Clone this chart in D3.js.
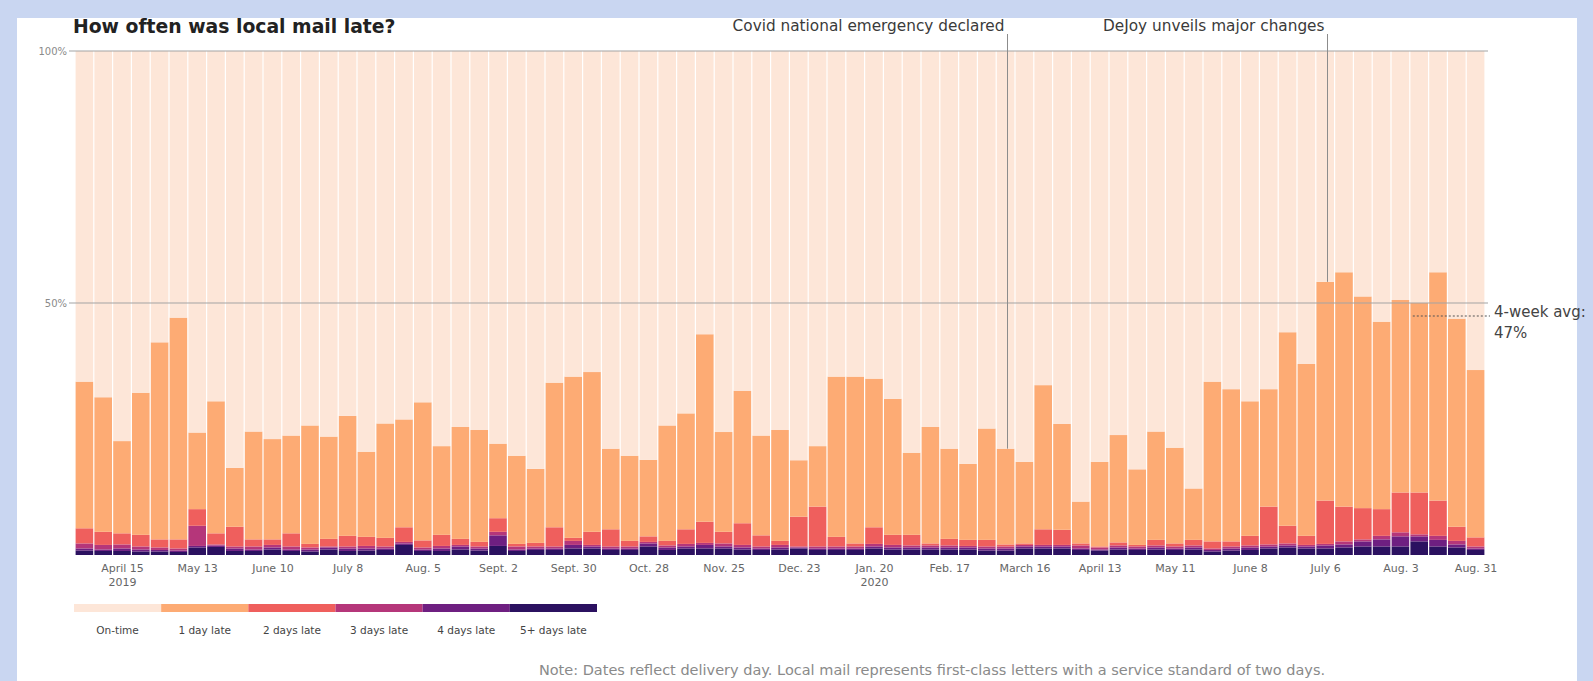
<!DOCTYPE html>
<html>
<head>
<meta charset="utf-8">
<script src="https://cdn.jsdelivr.net/npm/d3@7"></script>
<style>
  body { margin: 0; background: #c9d6f1; }
  text { font-family: "DejaVu Sans", sans-serif; }
</style>
</head>
<body>
<svg id="chart" width="1593" height="681"></svg>
<script>
//------------------------------------------- Data -------------------------------------------//
// weekly share of local mail (%), one value per week starting Monday April 1, 2019
let late1 = [29.1, 26.7, 18.3, 28.2, 39.1, 44.0, 15.2, 26.2, 11.7, 21.4,
  19.9, 19.4, 23.5, 20.3, 23.8, 16.9, 22.7, 21.4, 27.4, 17.6,
  22.2, 22.2, 14.8, 17.5, 14.7, 28.7, 32.0, 31.7, 16.0, 16.9,
  15.2, 22.9, 23.0, 37.2, 19.8, 26.3, 19.8, 22.0, 11.2, 12.0,
  31.8, 33.1, 29.5, 27.0, 16.3, 23.1, 17.9, 15.1, 22.1, 19.0,
  16.2, 28.6, 21.0, 8.3, 16.8, 21.3, 15.0, 21.5, 19.0, 10.2,
  31.7, 30.2, 26.7, 23.3, 38.4, 34.1, 43.4, 46.5, 42.0, 37.2,
  38.2, 37.6, 45.3, 41.3, 33.2]
let late2 = [3.0, 2.6, 2.2, 2.3, 1.6, 1.8, 3.3, 2.2, 3.9, 1.4,
  1.1, 2.6, 0.7, 1.5, 2.1, 1.8, 1.7, 2.9, 1.4, 2.2,
  1.2, 0.9, 2.7, 0.5, 0.7, 3.8, 0.6, 2.6, 3.4, 1.1,
  1.1, 0.9, 2.9, 4.2, 2.3, 4.3, 2.2, 0.8, 5.9, 7.9,
  1.9, 0.6, 3.3, 2.0, 2.1, 0.4, 1.3, 1.2, 1.3, 0.4,
  0.3, 3.1, 3.0, 0.4, 0.2, 0.6, 0.3, 1.1, 0.6, 1.1,
  1.4, 1.0, 1.9, 7.5, 3.5, 1.8, 8.6, 6.9, 6.2, 5.3,
  7.9, 8.3, 7.0, 2.8, 1.8]
let late3 = [1.0, 0.9, 0.8, 0.6, 0.5, 0.4, 4.0, 0.2, 0.4, 0.6,
  0.5, 0.6, 0.4, 0.2, 0.4, 0.5, 0.4, 0.3, 0.4, 0.5,
  0.3, 0.4, 0.7, 0.6, 0.4, 0.4, 0.8, 0.3, 0.4, 0.4,
  0.3, 0.4, 0.5, 0.4, 0.6, 0.5, 0.4, 0.5, 0.2, 0.4,
  0.4, 0.4, 0.5, 0.5, 0.4, 0.4, 0.4, 0.3, 0.4, 0.4,
  0.3, 0.3, 0.3, 0.6, 0.4, 0.4, 0.4, 0.4, 0.4, 0.4,
  0.3, 0.4, 0.4, 0.4, 0.4, 0.3, 0.3, 0.6, 0.4, 0.7,
  0.8, 0.4, 0.8, 0.7, 0.4]
let late4 = [0.4, 0.3, 0.5, 0.4, 0.3, 0.3, 0.3, 0.3, 0.5, 0.3,
  0.4, 0.3, 0.4, 0.4, 0.5, 0.4, 0.3, 0.3, 0.3, 0.5,
  0.6, 0.4, 2.1, 0.3, 0.3, 0.3, 0.7, 0.4, 0.3, 0.3,
  0.6, 0.5, 0.4, 0.7, 0.4, 0.4, 0.3, 0.4, 0.2, 0.3,
  0.3, 0.3, 0.4, 0.4, 0.4, 0.4, 0.4, 0.4, 0.4, 0.4,
  0.4, 0.4, 0.4, 0.3, 0.2, 0.4, 0.3, 0.4, 0.3, 0.4,
  0.3, 0.4, 0.5, 0.4, 0.4, 0.4, 0.6, 0.6, 1.0, 1.4,
  2.0, 1.0, 1.3, 0.6, 0.3]
let late5 = [0.9, 0.8, 0.8, 0.7, 0.7, 0.6, 1.5, 1.6, 0.8, 0.8,
  1.1, 0.8, 0.7, 1.1, 0.8, 0.9, 1.0, 2.0, 0.8, 0.8,
  1.1, 0.9, 1.8, 0.8, 1.0, 1.0, 1.3, 1.3, 1.0, 1.0,
  1.7, 1.0, 1.3, 1.3, 1.3, 1.1, 1.0, 1.1, 1.3, 1.0,
  1.0, 1.0, 1.3, 1.1, 1.1, 1.1, 1.1, 1.1, 0.9, 0.9,
  1.3, 1.3, 1.3, 1.0, 0.9, 1.1, 1.0, 1.1, 1.0, 1.1,
  0.7, 0.9, 1.0, 1.3, 1.5, 1.3, 1.3, 1.5, 1.7, 1.7,
  1.7, 2.7, 1.7, 1.5, 1.0]

let categories = ['On-time', '1 day late', '2 days late', '3 days late', '4 days late', '5+ days late']
let colors = ['#fde6d8', '#fdab74', '#ef5f5d', '#b5367a', '#6e1f81', '#2b1160']

let tickDates = ['2019-04-15', '2019-05-13', '2019-06-10', '2019-07-08', '2019-08-05', '2019-09-02',
  '2019-09-30', '2019-10-28', '2019-11-25', '2019-12-23', '2020-01-20', '2020-02-17', '2020-03-16',
  '2020-04-13', '2020-05-11', '2020-06-08', '2020-07-06', '2020-08-03', '2020-08-31']
let tickLabels = ['April 15', 'May 13', 'June 10', 'July 8', 'Aug. 5', 'Sept. 2', 'Sept. 30', 'Oct. 28',
  'Nov. 25', 'Dec. 23', 'Jan. 20', 'Feb. 17', 'March 16', 'April 13', 'May 11', 'June 8', 'July 6',
  'Aug. 3', 'Aug. 31']
let tickYears = ['2019', '', '', '', '', '', '', '', '', '', '2020', '', '', '', '', '', '', '', '']

let events = [
  {date: '2020-03-13', label: 'Covid national emergency declared'},
  {date: '2020-07-10', label: 'DeJoy unveils major changes'}
]

//--------------------------------------- Set up Canvas ---------------------------------------//
let w = 1593, h = 681
let plot = {left: 75, right: 1485, top: 51, bottom: 555}
let parse = d3.utcParse('%Y-%m-%d')

let svg = d3.select('#chart')
svg.append('rect').attr('x', 17).attr('y', 18).attr('width', 1560).attr('height', h - 18).attr('fill', '#fff')

let weeks = d3.utcMonday.range(parse('2019-04-01'), parse('2020-09-01'))
let rows = weeks.map(function (d, i) {
  let late = late1[i] + late2[i] + late3[i] + late4[i] + late5[i]
  return {date: d, late5: late5[i], late4: late4[i], late3: late3[i], late2: late2[i], late1: late1[i],
    onTime: 100 - late, late: late}
})

let x = d3.scaleUtc()
  .domain([weeks[0], d3.utcDay.offset(weeks[weeks.length - 1], 7)])
  .range([plot.left, plot.right])
let y = d3.scaleLinear().domain([0, 100]).range([plot.bottom, plot.top])

let keys = ['late5', 'late4', 'late3', 'late2', 'late1', 'onTime']
let keyColors = colors.slice().reverse()
let series = d3.stack().keys(keys)(rows)

//------------------------------------------ Bars ------------------------------------------//
svg.append('g')
  .selectAll('g')
  .data(series)
  .enter()
  .append('g')
  .attr('fill', (s, i) => keyColors[i])
  .selectAll('rect')
  .data(s => s)
  .enter()
  .append('rect')
  .attr('x', d => x(d.data.date) + 0.6)
  .attr('width', d => x(d3.utcDay.offset(d.data.date, 7)) - x(d.data.date) - 1.2)
  .attr('y', d => y(d[1]))
  .attr('height', d => y(d[0]) - y(d[1]))

// gridlines
let grid = svg.append('g')
;[50, 100].forEach(function (v) {
  grid.append('line')
    .attr('x1', 69).attr('x2', plot.right + 3)
    .attr('y1', y(v)).attr('y2', y(v))
    .attr('stroke', '#a3a3a3').attr('stroke-width', 1)
  grid.append('text')
    .text(v + '%')
    .attr('x', 67).attr('y', y(v)).attr('dy', '0.35em')
    .attr('text-anchor', 'end')
    .attr('font-size', '10px').attr('fill', '#8a8a8a')
})

//------------------------------------------ Axis ------------------------------------------//
let half = (x(weeks[1]) - x(weeks[0])) / 2
let xAxis = d3.axisBottom(x)
  .tickValues(tickDates.map(parse))
  .tickSize(0)
  .tickPadding(9)
  .tickFormat((d, i) => tickLabels[i])
let axisG = svg.append('g')
  .attr('transform', 'translate(' + half + ',' + plot.bottom + ')')
  .call(xAxis)
axisG.select('.domain').remove()
axisG.selectAll('text')
  .attr('font-family', '"DejaVu Sans", sans-serif')
  .attr('font-size', '11px')
  .attr('fill', '#666')
axisG.selectAll('.tick text')
  .each(function (d, i) {
    if (tickYears[i]) {
      d3.select(this).append('tspan').attr('x', 0).attr('dy', '1.3em').text(tickYears[i])
    }
  })

//--------------------------------------- Annotations ---------------------------------------//
events.forEach(function (e) {
  let date = parse(e.date)
  let row = rows.find(r => date >= r.date && date < d3.utcDay.offset(r.date, 7))
  let ex = Math.round(x(date)) + 0.5
  svg.append('line')
    .attr('x1', ex).attr('x2', ex)
    .attr('y1', 34).attr('y2', y(row.late))
    .attr('stroke', '#8c8c8c').attr('stroke-width', 1)
  svg.append('text')
    .text(e.label)
    .attr('x', ex - 3).attr('y', 31)
    .attr('text-anchor', 'end')
    .attr('font-size', '15.3px').attr('fill', '#3a3a3a')
})

// 4-week average
let lastFour = rows.slice(-4)
let avg = d3.mean(lastFour, r => r.late)
svg.append('line')
  .attr('x1', x(lastFour[0].date) + 3).attr('x2', plot.right + 5)
  .attr('y1', y(avg)).attr('y2', y(avg))
  .attr('stroke', '#555').attr('stroke-width', 1.2)
  .attr('stroke-dasharray', '2,2')
svg.append('text')
  .attr('x', plot.right + 9).attr('y', y(avg) + 1)
  .attr('font-size', '15px').attr('fill', '#444')
  .call(function (t) {
    t.append('tspan').attr('x', plot.right + 9).text('4-week avg:')
    t.append('tspan').attr('x', plot.right + 9).attr('dy', '1.4em').text(Math.round(avg) + '%')
  })

// title
svg.append('text')
  .text('How often was local mail late?')
  .attr('x', 73).attr('y', 33)
  .attr('font-size', '18.8px').attr('font-weight', 'bold').attr('fill', '#222')

//------------------------------------------ Legend ------------------------------------------//
let legendX = d3.scaleBand().domain(categories).range([74, 597])
let legend = svg.append('g')
legend.selectAll('rect')
  .data(categories)
  .enter()
  .append('rect')
  .attr('x', d => legendX(d))
  .attr('y', 604)
  .attr('width', legendX.bandwidth())
  .attr('height', 8)
  .attr('fill', (d, i) => colors[i])
legend.selectAll('text')
  .data(categories)
  .enter()
  .append('text')
  .text(d => d)
  .attr('x', d => legendX(d) + legendX.bandwidth() / 2)
  .attr('y', 634)
  .attr('text-anchor', 'middle')
  .attr('font-size', '10.5px').attr('fill', '#444')

// note
svg.append('text')
  .text('Note: Dates reflect delivery day. Local mail represents first-class letters with a service standard of two days.')
  .attr('x', 932).attr('y', 675)
  .attr('text-anchor', 'middle')
  .attr('font-size', '14.5px').attr('fill', '#8a8a8a')
</script>
</body>
</html>
